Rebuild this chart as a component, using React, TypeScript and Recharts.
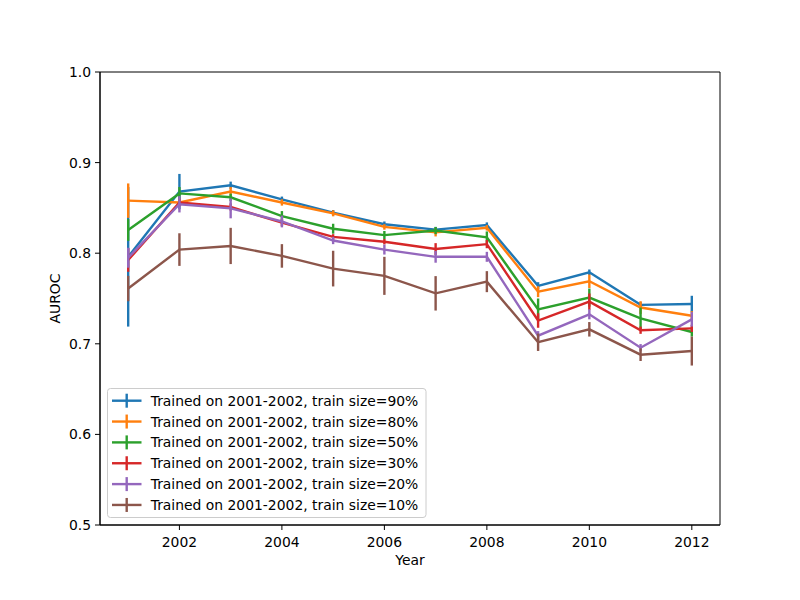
import React from 'react';
import { LineChart, Line, XAxis, YAxis, ErrorBar, ReferenceArea } from 'recharts';

const years = [2001, 2002, 2003, 2004, 2005, 2006, 2007, 2008, 2009, 2010, 2011, 2012];
const xTicks = [2002, 2004, 2006, 2008, 2010, 2012];
const yTicks = [0.5, 0.6, 0.7, 0.8, 0.9, 1.0];

const seriesLabels = [
  'Trained on 2001-2002, train size=90%',
  'Trained on 2001-2002, train size=80%',
  'Trained on 2001-2002, train size=50%',
  'Trained on 2001-2002, train size=30%',
  'Trained on 2001-2002, train size=20%',
  'Trained on 2001-2002, train size=10%',
];
const colors = ['#1f77b4', '#ff7f0e', '#2ca02c', '#d62728', '#9467bd', '#8c564b'];

const v90 = [0.796, 0.868, 0.875, 0.8595, 0.8447, 0.832, 0.826, 0.831, 0.764, 0.779, 0.743, 0.744];
const e90 = [0.077, 0.0195, 0.004, 0.003, 0.003, 0.003, 0.003, 0.003, 0.004, 0.003, 0.003, 0.009];
const v80 = [0.858, 0.856, 0.868, 0.856, 0.844, 0.829, 0.823, 0.828, 0.7575, 0.769, 0.74, 0.731];
const e80 = [0.019, 0.004, 0.005, 0.0035, 0.0033, 0.003, 0.0045, 0.003, 0.006, 0.0074, 0.007, 0.005];
const v50 = [0.8256, 0.866, 0.8617, 0.841, 0.827, 0.82, 0.825, 0.8175, 0.738, 0.751, 0.728, 0.713];
const e50 = [0.012, 0.007, 0.004, 0.0055, 0.0055, 0.0045, 0.004, 0.0065, 0.012, 0.01, 0.012, 0.005];
const v30 = [0.7925, 0.856, 0.851, 0.8337, 0.818, 0.8127, 0.8046, 0.81, 0.7257, 0.7465, 0.715, 0.717];
const e30 = [0.013, 0.004, 0.004, 0.004, 0.003, 0.003, 0.0065, 0.0045, 0.008, 0.009, 0.004, 0.004];
const v20 = [0.795, 0.854, 0.8495, 0.835, 0.814, 0.804, 0.796, 0.796, 0.709, 0.7325, 0.6957, 0.727];
const e20 = [0.011, 0.009, 0.011, 0.0065, 0.004, 0.0055, 0.0065, 0.0055, 0.005, 0.0055, 0.004, 0.008];
const v10 = [0.761, 0.804, 0.808, 0.797, 0.783, 0.775, 0.7557, 0.7686, 0.7017, 0.716, 0.688, 0.692];
const e10 = [0.014, 0.018, 0.02, 0.013, 0.0197, 0.021, 0.019, 0.0116, 0.0096, 0.008, 0.007, 0.016];

const values = [v90, v80, v50, v30, v20, v10];
const errors = [e90, e80, e50, e30, e20, e10];

const data = years.map((year, i) => {
  const row: Record<string, number> = { year };
  values.forEach((vals, s) => {
    row[`v${s}`] = vals[i];
    row[`e${s}`] = errors[s][i];
  });
  return row;
});

const FONT = 'DejaVu Sans, sans-serif';
const FS = 13.9;
const LW = 2.4;

export default function App() {
  return (
    <div style={{ position: 'absolute', left: 0, top: 0, width: 800, height: 600, background: '#fff' }}>
      <LineChart
        width={800}
        height={600}
        data={data}
        margin={{ top: 72, right: 80, left: 40, bottom: 35 }}
      >
        <XAxis
          dataKey="year"
          type="number"
          domain={[2000.45, 2012.55]}
          allowDataOverflow
          ticks={xTicks}
          height={40}
          tickSize={5}
          tickMargin={7}
          stroke="#000"
          tick={{ fill: '#000', fontSize: FS, fontFamily: FONT }}
          axisLine={{ stroke: '#000', strokeWidth: 1 }}
          tickLine={{ stroke: '#000', strokeWidth: 1 }}
        />
        <YAxis
          type="number"
          domain={[0.5, 1.0]}
          allowDataOverflow
          ticks={yTicks}
          width={60}
          tickSize={5}
          tickMargin={4}
          tickFormatter={(v: number) => v.toFixed(1)}
          stroke="#000"
          tick={{ fill: '#000', fontSize: FS, fontFamily: FONT }}
          axisLine={{ stroke: '#000', strokeWidth: 1 }}
          tickLine={{ stroke: '#000', strokeWidth: 1 }}
        />
        {values.map((_, s) => (
          <Line
            key={s}
            dataKey={`v${s}`}
            type="linear"
            stroke={colors[s]}
            strokeWidth={LW}
            dot={false}
            activeDot={false}
            isAnimationActive={false}
          >
            <ErrorBar
              dataKey={`e${s}`}
              direction="y"
              width={0}
              stroke={colors[s]}
              strokeWidth={LW}
              isAnimationActive={false}
            />
          </Line>
        ))}
        <ReferenceArea
          x1={2000.45}
          x2={2012.55}
          y1={0.5}
          y2={1.0}
          fill="none"
          fillOpacity={0}
          stroke="#000"
          strokeWidth={1}
          ifOverflow="visible"
        />
      </LineChart>
      <svg
        width={800}
        height={600}
        style={{ position: 'absolute', left: 0, top: 0, pointerEvents: 'none' }}
      >
        <text x={410} y={565} textAnchor="middle" fontFamily={FONT} fontSize={FS} fill="#000">
          Year
        </text>
        <text
          x={60}
          y={298.5}
          textAnchor="middle"
          fontFamily={FONT}
          fontSize={FS}
          fill="#000"
          transform="rotate(-90 60 298.5)"
        >
          AUROC
        </text>
        <rect x={107.5} y={388.5} width={318.5} height={129} rx={3} ry={3} fill="#fff" fillOpacity={0.8} stroke="#ccc" strokeWidth={1} />
        {seriesLabels.map((label, i) => {
          const cy = 400.7 + i * 20.85;
          return (
            <g key={label}>
              <line x1={112} x2={141.5} y1={cy} y2={cy} stroke={colors[i]} strokeWidth={LW} />
              <line x1={126.7} x2={126.7} y1={cy - 7} y2={cy + 7} stroke={colors[i]} strokeWidth={LW} />
              <text x={150.7} y={cy + 5} fontFamily={FONT} fontSize={FS} fill="#000">
                {label}
              </text>
            </g>
          );
        })}
      </svg>
    </div>
  );
}
